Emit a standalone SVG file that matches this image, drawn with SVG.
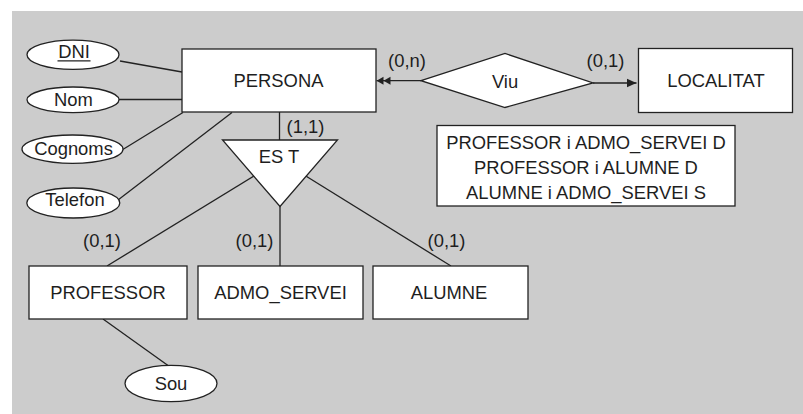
<svg xmlns="http://www.w3.org/2000/svg" width="803" height="414" viewBox="0 0 803 414">
  <style>
    .bg { fill: #cccccc; }
    .shape { fill: #ffffff; stroke: #222222; stroke-width: 1.3; }
    .edge { fill: none; stroke: #222222; stroke-width: 1.3; }
    .lbl { font-family: "Liberation Sans", Arial, Helvetica, sans-serif; font-size: 18.4px; fill: #1e1e1e; text-anchor: middle; }
    .head { fill: #222222; stroke: none; }
  </style>
  <defs>
    <marker id="arrowOne" viewBox="0 0 10 10" refX="10" refY="5" markerWidth="10" markerHeight="10" markerUnits="userSpaceOnUse" orient="auto">
      <path class="head" d="M0,0.6 L10,5 L0,9.4 Z"/>
    </marker>
    <marker id="arrowMany" viewBox="0 0 14 10" refX="14" refY="5" markerWidth="14" markerHeight="10" markerUnits="userSpaceOnUse" orient="auto">
      <path class="head" d="M0,1 L7,5 L0,9 Z M7,1 L14,5 L7,9 Z"/>
    </marker>
  </defs>

  <rect class="bg" x="12" y="11" width="791" height="403"/>

  <!-- connectors -->
  <g id="connectors">
    <line class="edge" x1="120" y1="61" x2="182" y2="72"/>
    <line class="edge" x1="119" y1="99.5" x2="182" y2="99.5"/>
    <line class="edge" x1="122" y1="150" x2="183" y2="112.5"/>
    <line class="edge" x1="118" y1="200" x2="232" y2="112.5"/>
    <line class="edge" x1="279.5" y1="112" x2="279.5" y2="140"/>
    <line class="edge" x1="280" y1="160" x2="107" y2="266"/>
    <line class="edge" x1="280" y1="206" x2="280" y2="266"/>
    <line class="edge" x1="280" y1="160" x2="451" y2="266"/>
    <line class="edge" x1="103" y1="319" x2="168" y2="365.5"/>
    <line class="edge" x1="421" y1="80.7" x2="376.5" y2="80.7" marker-end="url(#arrowMany)"/>
    <line class="edge" x1="593" y1="83" x2="636.5" y2="83" marker-end="url(#arrowOne)"/>
    <text class="lbl" x="407" y="67">(0,n)</text>
    <text class="lbl" x="605.5" y="67">(0,1)</text>
    <text class="lbl" x="305.5" y="133">(1,1)</text>
    <text class="lbl" x="102" y="247">(0,1)</text>
    <text class="lbl" x="254.5" y="247">(0,1)</text>
    <text class="lbl" x="446.5" y="247">(0,1)</text>
  </g>

  <!-- entities -->
  <g id="persona">
    <rect class="shape" x="182" y="49" width="194" height="63"/>
    <text class="lbl" x="278.5" y="87.3">PERSONA</text>
  </g>
  <g id="localitat">
    <rect class="shape" x="638.5" y="48.5" width="154" height="64"/>
    <text class="lbl" x="716" y="87.3">LOCALITAT</text>
  </g>
  <g id="professor">
    <rect class="shape" x="29" y="266" width="158" height="53"/>
    <text class="lbl" x="108" y="299">PROFESSOR</text>
  </g>
  <g id="admo_servei">
    <rect class="shape" x="198" y="266" width="165" height="53"/>
    <text class="lbl" x="280.5" y="299">ADMO_SERVEI</text>
  </g>
  <g id="alumne">
    <rect class="shape" x="373" y="266" width="155" height="53"/>
    <text class="lbl" x="449" y="299">ALUMNE</text>
  </g>

  <!-- relationship -->
  <g id="viu">
    <polygon class="shape" points="421,80.7 505,53.5 593,83 505,107.5"/>
    <text class="lbl" x="505" y="88">Viu</text>
  </g>

  <!-- specialisation -->
  <g id="es_t">
    <polygon class="shape" points="222.5,140 337.5,140 280,206.5"/>
    <text class="lbl" x="279" y="163.3">ES T</text>
  </g>

  <!-- attributes -->
  <g id="attr_dni">
    <ellipse class="shape" cx="73" cy="54.7" rx="46" ry="14.6"/>
    <text class="lbl" x="74" y="58.3">DNI</text>
    <line class="edge" x1="57.5" y1="60.8" x2="90.5" y2="60.8"/>
  </g>
  <g id="attr_nom">
    <ellipse class="shape" cx="73" cy="99.8" rx="46" ry="12.8"/>
    <text class="lbl" x="73.5" y="105.5">Nom</text>
  </g>
  <g id="attr_cognoms">
    <ellipse class="shape" cx="72.5" cy="149.2" rx="50.5" ry="14.2"/>
    <text class="lbl" x="73.5" y="155">Cognoms</text>
  </g>
  <g id="attr_telefon">
    <ellipse class="shape" cx="73.3" cy="203" rx="46.5" ry="15"/>
    <text class="lbl" x="75" y="206.3">Telefon</text>
  </g>
  <g id="attr_sou">
    <ellipse class="shape" cx="171" cy="383.5" rx="46" ry="18.2"/>
    <text class="lbl" x="171" y="390">Sou</text>
  </g>

  <!-- constraint note -->
  <g id="constraints">
    <rect class="shape" x="437" y="125.5" width="298" height="80.5"/>
    <text class="lbl" x="586" y="148.5">PROFESSOR i ADMO_SERVEI D</text>
    <text class="lbl" x="586" y="173.5">PROFESSOR i ALUMNE D</text>
    <text class="lbl" x="586" y="199">ALUMNE i ADMO_SERVEI S</text>
  </g>
</svg>
